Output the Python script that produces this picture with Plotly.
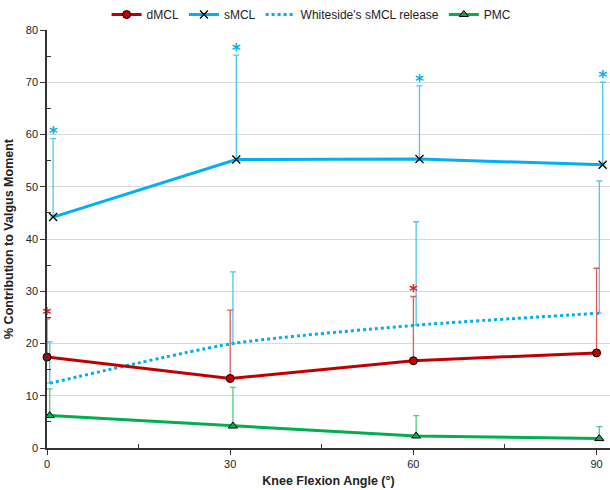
import plotly.graph_objects as go

angles = [0, 30, 60, 90]

dmcl = [17.4, 13.3, 16.7, 18.2]
dmcl_err = [7.3, 13.1, 12.3, 16.2]
dmcl_sig = [True, False, True, False]

smcl = [44.2, 55.2, 55.3, 54.2]
smcl_err = [15.0, 20.0, 14.0, 15.8]
smcl_sig = [True, True, True, True]

white = [12.4, 20.0, 23.5, 25.8]
white_err = [7.9, 13.7, 19.8, 25.3]

pmc = [6.2, 4.2, 2.3, 1.8]
pmc_err = [5.1, 7.4, 3.9, 2.3]

# small horizontal offsets used in the original to separate series
off = {"dmcl": 0.0, "white": 0.45, "pmc": 0.45, "smcl": 1.0}

RED = "#C00000"
RED_E = "#DE5B5B"
BLUE = "#00B0F0"
BLUE_E = "#4CC6F3"
GREEN = "#00B050"
GREEN_E = "#4FCB84"

def xs(key):
    return [a + off[key] for a in angles]

fig = go.Figure()

fig.add_trace(go.Scatter(
    x=xs("white"), y=white, name="Whiteside's sMCL release", mode="lines",
    line=dict(color=BLUE, width=3, dash="dot", shape="spline", smoothing=0.6),
    error_y=dict(type="data", symmetric=False, array=white_err, arrayminus=[0]*4,
                 color=BLUE_E, thickness=1.3, width=3),
    cliponaxis=False,
))
fig.add_trace(go.Scatter(
    x=xs("pmc"), y=pmc, name="PMC", mode="lines+markers",
    line=dict(color=GREEN, width=3),
    marker=dict(symbol="triangle-up", size=8, color=GREEN, line=dict(color="black", width=1)),
    error_y=dict(type="data", symmetric=False, array=pmc_err, arrayminus=[0]*4,
                 color=GREEN_E, thickness=1.3, width=3),
    cliponaxis=False,
))
fig.add_trace(go.Scatter(
    x=xs("dmcl"), y=dmcl, name="dMCL", mode="lines+markers",
    line=dict(color=RED, width=3),
    marker=dict(symbol="circle", size=8, color=RED, line=dict(color="black", width=1)),
    error_y=dict(type="data", symmetric=False, array=dmcl_err, arrayminus=[0]*4,
                 color=RED_E, thickness=1.3, width=3),
    cliponaxis=False,
))
fig.add_trace(go.Scatter(
    x=xs("smcl"), y=smcl, name="sMCL", mode="lines+markers",
    line=dict(color=BLUE, width=3),
    marker=dict(symbol="x-thin", size=8, color="black", line=dict(color="black", width=1.3)),
    error_y=dict(type="data", symmetric=False, array=smcl_err, arrayminus=[0]*4,
                 color=BLUE_E, thickness=1.3, width=3),
    cliponaxis=False,
))

# significance stars
def stars(key, vals, errs, sig, color):
    x = [xv for xv, s in zip(xs(key), sig) if s]
    y = [v + e + 0.7 for v, e, s in zip(vals, errs, sig) if s]
    fig.add_trace(go.Scatter(
        x=x, y=y, mode="text", text=["<b>*</b>"] * len(x), showlegend=False,
        textfont=dict(color=color, size=17, family="DejaVu Sans"),
        textposition="middle center", hoverinfo="skip", cliponaxis=False,
    ))

stars("dmcl", dmcl, dmcl_err, dmcl_sig, "#E02020")
stars("smcl", smcl, smcl_err, smcl_sig, BLUE)

# legend order: dMCL, sMCL, Whiteside, PMC
fig.data[2].legendrank = 1
fig.data[3].legendrank = 2
fig.data[0].legendrank = 3
fig.data[1].legendrank = 4

fig.update_layout(
    width=610, height=490,
    margin=dict(l=47, r=0, t=30, b=42),
    paper_bgcolor="white", plot_bgcolor="white",
    font=dict(family="Liberation Sans, Arial, sans-serif", size=11, color="#222"),
    showlegend=True,
    legend=dict(orientation="h", x=0.47, xanchor="center", yref="container", y=1.0,
                yanchor="top", font=dict(size=12), itemwidth=30, tracegroupgap=0,
                bgcolor="rgba(0,0,0,0)"),
    xaxis=dict(
        range=[0, 92.2], tickvals=angles, ticks="outside", ticklen=5, tickcolor="#333",
        showline=True, linecolor="#333", linewidth=1.5, showgrid=False, zeroline=False,
        automargin=False, tickfont=dict(size=11),
        minor=dict(tickvals=[15, 45, 75], ticks="inside", ticklen=4, tickcolor="#333"),
        title=dict(text="<b>Knee Flexion Angle (°)</b>", font=dict(size=12.5), standoff=7),
    ),
    yaxis=dict(
        range=[0, 80], tickvals=[0, 10, 20, 30, 40, 50, 60, 70, 80], ticks="outside",
        ticklen=5, tickcolor="#333",
        showline=True, linecolor="#333", linewidth=1.5,
        showgrid=True, gridcolor="#D9D9D9", gridwidth=1, zeroline=False,
        automargin=False, tickfont=dict(size=11),
        minor=dict(tickvals=[5, 15, 25, 35, 45, 55, 65, 75], ticks="inside", ticklen=4,
                   tickcolor="#333", showgrid=False),
        title=dict(text="<b>% Contribution to Valgus Moment</b>", font=dict(size=12.5), standoff=9),
    ),
)

fig.write_html("out.html", config={"displayModeBar": False},
               post_script="document.body.style.margin='0';document.body.style.overflow='hidden';")
